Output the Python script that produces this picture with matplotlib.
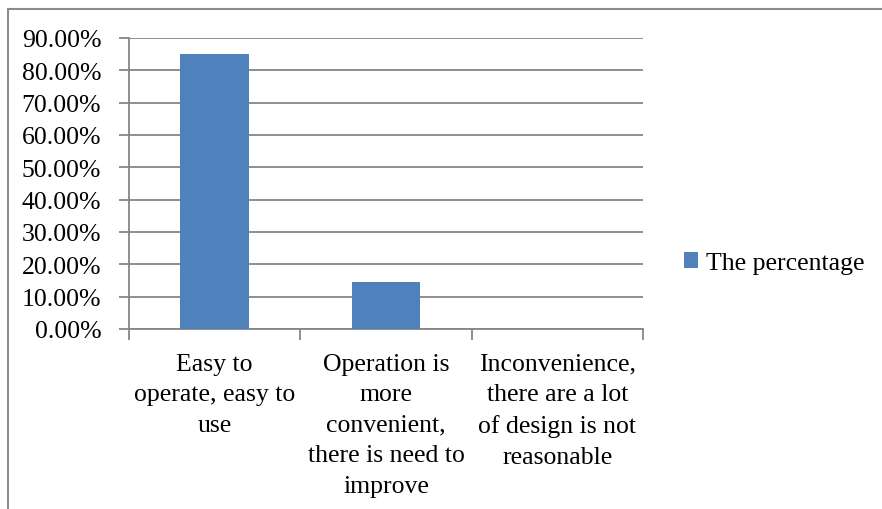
import matplotlib.pyplot as plt
from matplotlib.patches import Rectangle
from matplotlib.ticker import PercentFormatter

plt.rcParams['font.family'] = ['Liberation Serif', 'DejaVu Serif']

categories = ["Easy to\noperate, easy to\nuse",
              "Operation is\nmore\nconvenient,\nthere is need to\nimprove",
              "Inconvenience,\nthere are a lot\nof design is not\nreasonable"]
percentage = [0.85, 0.146, 0.0]
series_name = "The percentage"

W, H = 882, 510
fs = 18.5
fig = plt.figure(figsize=(W / 100, H / 100), dpi=100)

# chart frame (cut off at right/bottom in the original)
fig.patches.append(Rectangle((8 / W, -0.1), 1.2, (H - 10) / H + 0.1,
                             transform=fig.transFigure, fill=False,
                             edgecolor='#8c8c8c', linewidth=1.5))

ax = fig.add_axes([129 / W, (H - 330) / H, (643 - 129) / W, (330 - 39) / H])
x = range(len(categories))
ax.bar(x, percentage, width=0.4, color='#4f81bd', label=series_name, zorder=3)

ax.set_xlim(-0.5, len(categories) - 0.5)
ax.set_ylim(0, 0.9)
ax.set_yticks([i / 10 for i in range(10)])
ax.yaxis.set_major_formatter(PercentFormatter(1.0, decimals=2))
ax.grid(axis='y', color='#868686', linewidth=1.3, zorder=0)

ax.set_xticks([i - 0.5 for i in range(len(categories) + 1)], minor=False)
ax.set_xticklabels([])
ax.set_xticks(list(x), minor=True)
ax.set_xticklabels(categories, minor=True, fontsize=fs, linespacing=1.5,
                   va='top')
ax.tick_params(axis='x', which='minor', length=0, pad=17)
ax.tick_params(axis='x', which='major', length=8, width=1.3, color='#868686')
ax.tick_params(axis='y', length=7, width=1.3, color='#868686', labelsize=fs,
               pad=13)

for side in ['top', 'right']:
    ax.spines[side].set_visible(False)
for side in ['left', 'bottom']:
    ax.spines[side].set_color('#868686')
    ax.spines[side].set_linewidth(1.3)

fig.legend(loc='center left', bbox_to_anchor=(684 / W, (H - 264) / H),
           frameon=False, fontsize=fs, handlelength=0.55, handleheight=0.55,
           handletextpad=0.3, borderpad=0, borderaxespad=0)

fig.savefig('out.png', dpi=100)
